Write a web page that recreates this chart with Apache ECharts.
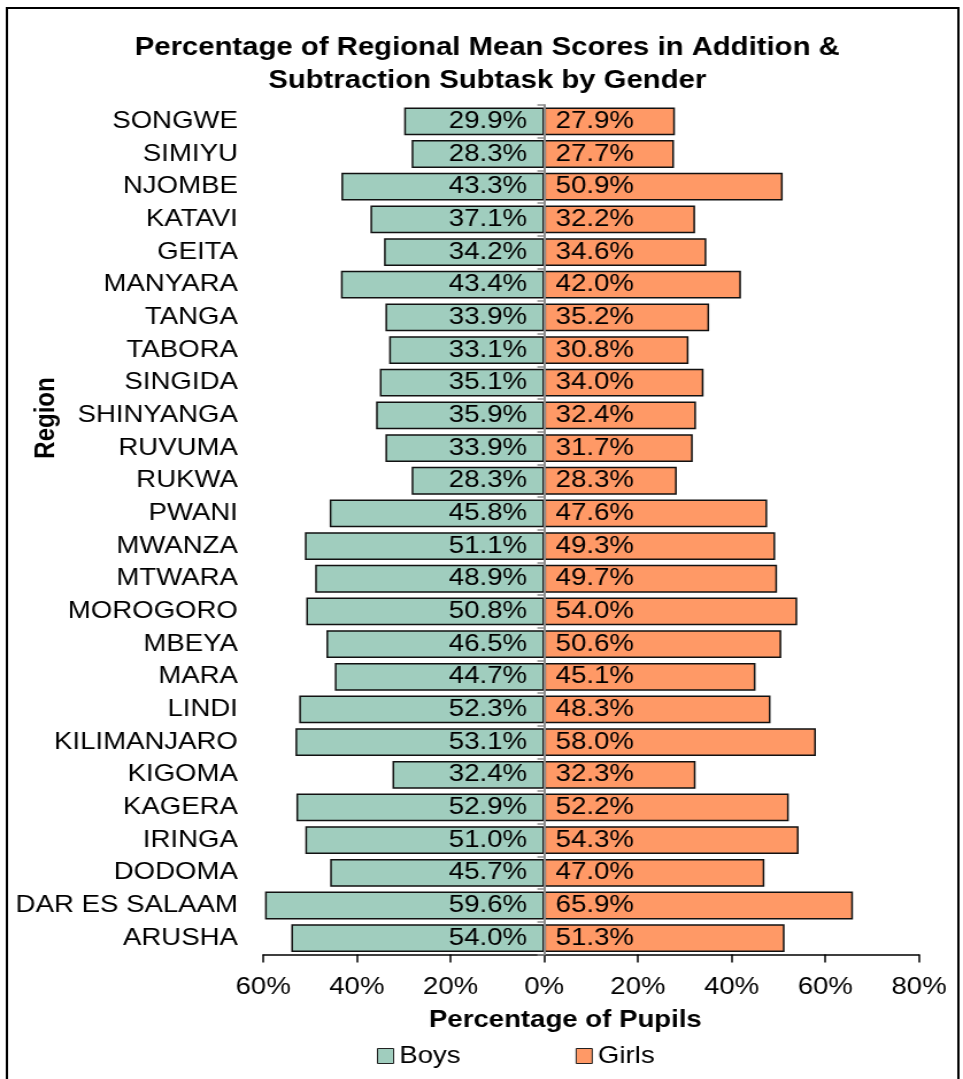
<!DOCTYPE html>
<html>
<head>
<meta charset="utf-8">
<script src="https://cdn.jsdelivr.net/npm/echarts@6/dist/echarts.min.js"></script>
<style>
  html, body { margin: 0; padding: 0; background: #fff; overflow: hidden; }
  /* the chart is laid out at a narrower width and widened to fill the page */
  #chart { width: 838px; height: 1079px; transform: scaleX(1.14916); transform-origin: 0 0; }
</style>
</head>
<body>
<div id="chart"></div>
<script>
// Regions, listed top to bottom
const regions = ['SONGWE', 'SIMIYU', 'NJOMBE', 'KATAVI', 'GEITA', 'MANYARA', 'TANGA', 'TABORA',
  'SINGIDA', 'SHINYANGA', 'RUVUMA', 'RUKWA', 'PWANI', 'MWANZA', 'MTWARA', 'MOROGORO', 'MBEYA',
  'MARA', 'LINDI', 'KILIMANJARO', 'KIGOMA', 'KAGERA', 'IRINGA', 'DODOMA', 'DAR ES SALAAM', 'ARUSHA'];

// Mean score percentages by gender
const boys = [29.9, 28.3, 43.3, 37.1, 34.2, 43.4, 33.9, 33.1, 35.1, 35.9, 33.9, 28.3, 45.8,
  51.1, 48.9, 50.8, 46.5, 44.7, 52.3, 53.1, 32.4, 52.9, 51.0, 45.7, 59.6, 54.0];
const girls = [27.9, 27.7, 50.9, 32.2, 34.6, 42.0, 35.2, 30.8, 34.0, 32.4, 31.7, 28.3, 47.6,
  49.3, 49.7, 54.0, 50.6, 45.1, 48.3, 58.0, 32.3, 52.2, 54.3, 47.0, 65.9, 51.3];

// Percentage axis ticks (boys plotted to the left of zero)
const axisMin = -60, axisMax = 80, axisStep = 20;

const FONT = 'Liberation Sans, Arial, sans-serif';
const pct = v => Math.abs(v).toFixed(1) + '%';

const chart = echarts.init(document.getElementById('chart'), null, { renderer: 'canvas' });

chart.setOption({
  animation: false,
  textStyle: { fontFamily: FONT },
  title: [
    {
      text: 'Percentage of Regional Mean Scores in Addition &\nSubtraction Subtask by Gender',
      left: 419, top: 26, textAlign: 'center',
      textStyle: { fontSize: 25.5, fontWeight: 'bold', color: '#000', lineHeight: 33, fontFamily: FONT }
    },
    {
      text: 'Percentage of Pupils',
      left: 487, top: 1003, textAlign: 'center',
      textStyle: { fontSize: 24, fontWeight: 'bold', color: '#000', fontFamily: FONT }
    }
  ],
  legend: {
    left: 328, top: 1044, padding: 0,
    itemWidth: 14, itemHeight: 15, itemGap: 100,
    icon: 'rect',
    textStyle: { fontSize: 24, color: '#000', fontFamily: FONT },
    itemStyle: { borderColor: '#222', borderWidth: 1 },
    data: ['Boys', 'Girls']
  },
  grid: { left: 229, right: 38.3, top: 105, bottom: 124.5, containLabel: false },
  xAxis: {
    type: 'value',
    min: axisMin, max: axisMax, interval: axisStep,
    splitLine: { show: false },
    axisLine: { show: true, onZero: false, lineStyle: { color: '#000', width: 1.5 } },
    axisTick: { show: true, length: 8, lineStyle: { color: '#000', width: 1.5 } },
    axisLabel: {
      formatter: v => Math.abs(v) + '%',
      fontSize: 24, color: '#000', margin: 21, fontFamily: FONT
    }
  },
  yAxis: [
    {
      // region names along the left edge of the plot
      type: 'category', data: regions, inverse: true,
      axisLine: { show: false, onZero: false }, axisTick: { show: false },
      axisLabel: { fontSize: 24, color: '#000', margin: 22, fontFamily: FONT }
    },
    {
      // divider line at zero between boys and girls
      type: 'category', data: regions, inverse: true, position: 'left', z: 5,
      axisLine: { show: true, onZero: true, lineStyle: { color: '#8c8c8c', width: 2 } },
      axisTick: { show: true, length: 6, lineStyle: { color: '#8c8c8c', width: 1.5 } },
      axisLabel: { show: false }
    }
  ],
  graphic: [
    {
      type: 'rect', silent: true,
      shape: { x: 6, y: 8, width: 828, height: 1100 },
      style: { fill: 'none', stroke: '#000', lineWidth: 2 }
    },
    {
      type: 'text', x: 40, y: 418, rotation: Math.PI / 2, silent: true,
      style: {
        text: 'Region', align: 'center', verticalAlign: 'middle',
        font: 'bold 24px ' + FONT, fill: '#000'
      }
    }
  ],
  series: [
    {
      name: 'Boys', type: 'bar', stack: 'gender', yAxisIndex: 0,
      barCategoryGap: '15%',
      data: boys.map(v => -v),
      itemStyle: { color: '#A0CDBE', borderColor: '#111', borderWidth: 1.5 },
      label: {
        show: true, position: 'insideRight', distance: 15,
        formatter: p => pct(p.value),
        fontSize: 24, color: '#000', fontFamily: FONT
      }
    },
    {
      name: 'Girls', type: 'bar', stack: 'gender', yAxisIndex: 0,
      barCategoryGap: '15%',
      data: girls,
      itemStyle: { color: '#FF9966', borderColor: '#111', borderWidth: 1.5 },
      label: {
        show: true, position: 'insideLeft', distance: 10,
        formatter: p => pct(p.value),
        fontSize: 24, color: '#000', fontFamily: FONT
      }
    }
  ]
});
</script>
</body>
</html>
